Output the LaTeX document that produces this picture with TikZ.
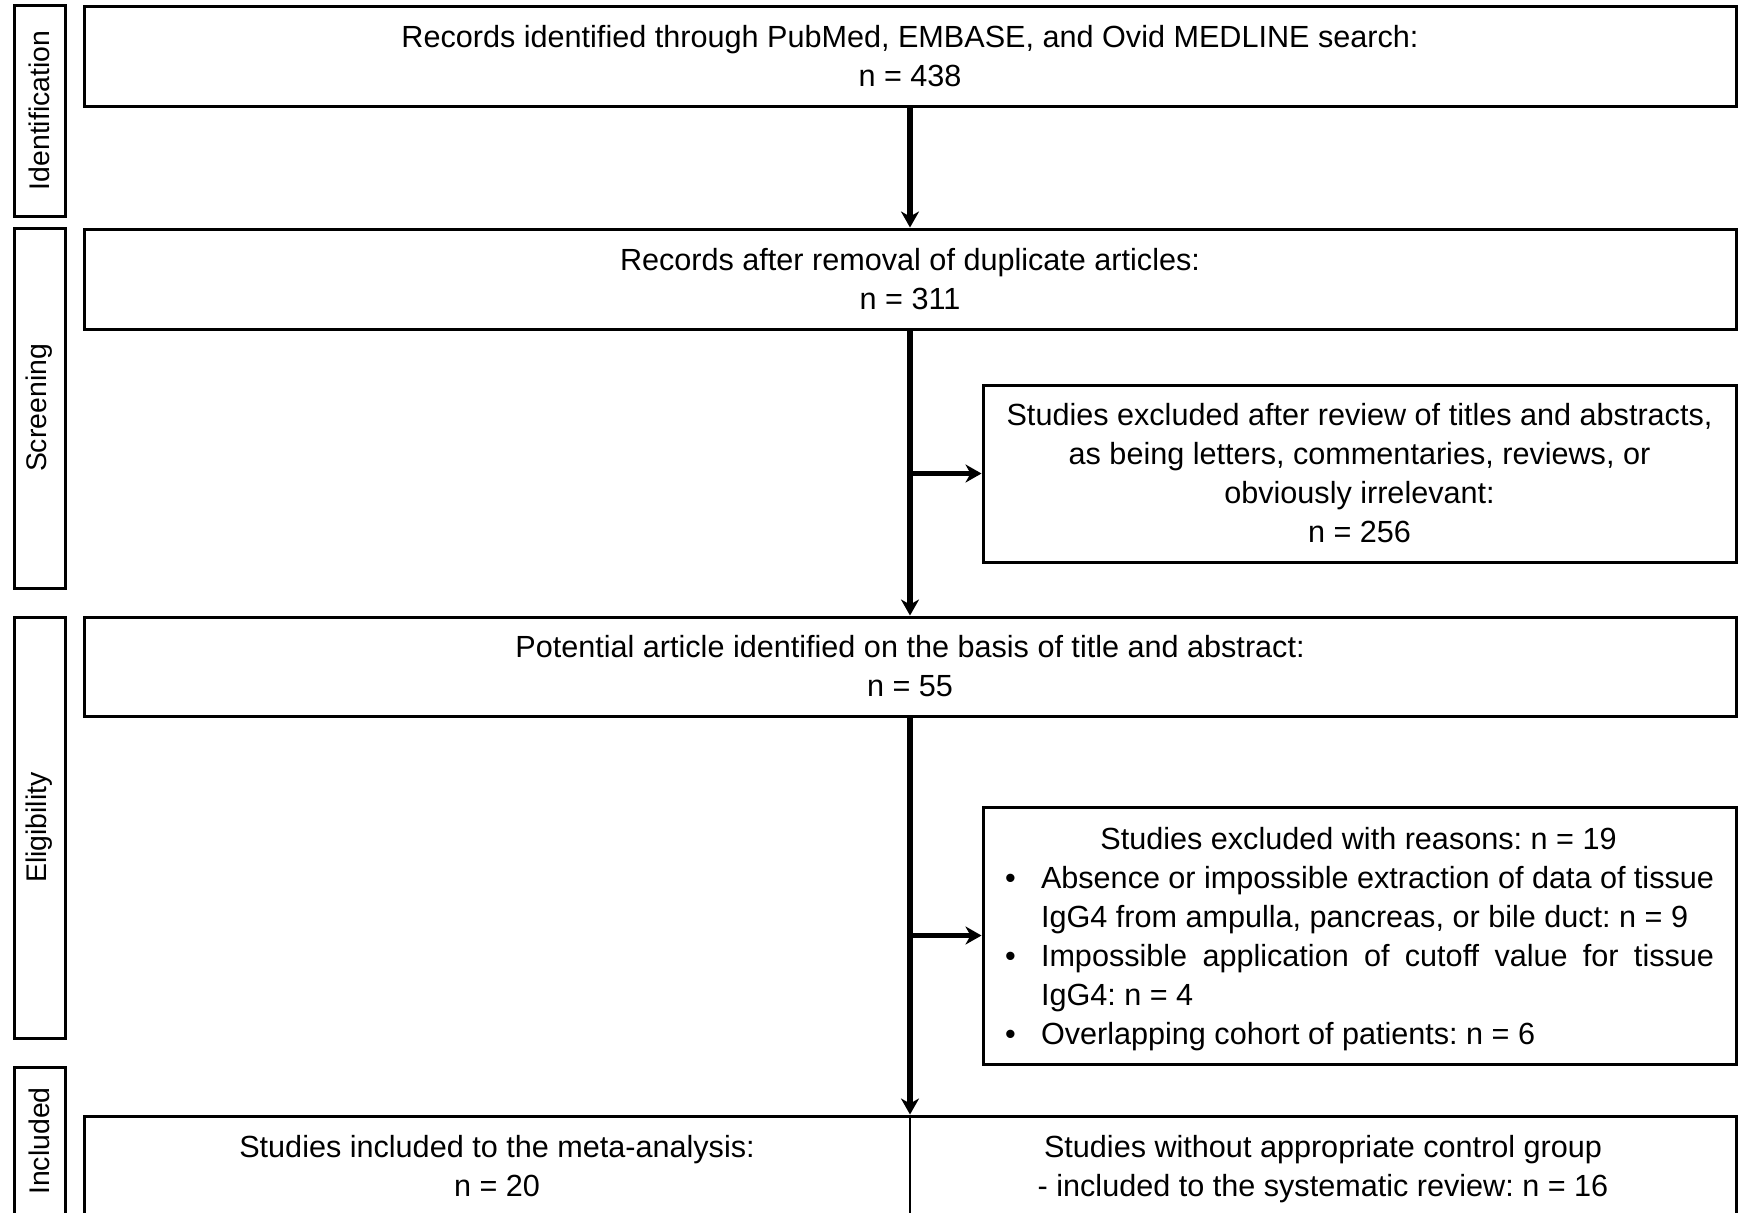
\documentclass[tikz,border=0pt]{standalone}
\usepackage{fontspec}
\setmainfont{Liberation Sans}
\usetikzlibrary{arrows.meta}
\frenchspacing
\begin{document}
\begin{tikzpicture}[x=0.5pt,y=-0.5pt,
  mainbox/.style={draw, line width=1.5pt, inner sep=0pt, align=center, font=\fontsize{15.3pt}{19.5pt}\selectfont},
  plaintext/.style={inner sep=0pt, align=center, font=\fontsize{15.3pt}{19.5pt}\selectfont},
  sidebox/.style={draw, line width=1.5pt, inner sep=0pt, rotate=90, minimum height=25.5pt, font=\fontsize{14.2pt}{17pt}\selectfont},
  flow/.style={line width=2.75pt, -{Stealth[length=8pt,width=9pt,inset=2.5pt]}},
  divider/.style={line width=1pt}]
\path[use as bounding box, clip] (0,0) rectangle (1739,1212);

% phase labels
\node[sidebox, minimum width=105.5pt] (sid) at (39.5,110.5) {Identification};
\node[sidebox, minimum width=180pt] (sscr) at (39.5,408) {Screening};
\node[sidebox, minimum width=210.5pt] (selig) at (39.5,827.5) {Eligibility};
\node[sidebox, minimum width=74pt] (sinc) at (39.5,1141) {Included};

% main boxes
\node[mainbox, minimum width=826pt, minimum height=50pt] (b1) at (910,56)
  {Records identified through PubMed, EMBASE, and Ovid MEDLINE search:\\ n = 438};
\node[mainbox, minimum width=826pt, minimum height=50pt] (b2) at (910,279)
  {Records after removal of duplicate articles:\\ n = 311};
\node[mainbox, minimum width=826pt, minimum height=49.5pt] (b3) at (910,666.5)
  {Potential article identified on the basis of title and abstract:\\ n = 55};
\node[mainbox, minimum width=826pt, minimum height=50.5pt] (b4) at (910,1166.5) {};
\draw[divider] (b4.north) -- (b4.south);
\node[plaintext] (meta) at (497,1166.5) {Studies included to the meta-analysis:\\ n = 20};
\node[plaintext] (sysrev) at (1323,1169.5) {Studies without appropriate control group\\ - included to the systematic review: n = 16};

% exclusion boxes
\node[mainbox, minimum width=376.5pt, minimum height=88.5pt] (ex1) at (1359.5,473.5)
  {Studies excluded after review of titles and abstracts,\\ as being letters, commentaries, reviews, or\\ obviously irrelevant:\\ n = 256};
\node[draw, line width=1.5pt, minimum width=376.5pt, minimum height=128.5pt] (ex2) at (1359.5,935.5) {};
\node[inner sep=0pt, text width=355.5pt, align=justify, font=\fontsize{15.3pt}{19.5pt}\selectfont] (ex2t) at (1358.5,939.5)
  {\makebox[\hsize][c]{Studies excluded with reasons: n = 19}\par
   \noindent\hangindent=19pt\hangafter=1\makebox[19pt][l]{\hspace{1pt}\textbullet}Absence or impossible extraction of data of tissue\linebreak IgG4 from ampulla, pancreas, or bile duct: n = 9\par
   \noindent\hangindent=19pt\hangafter=1\makebox[19pt][l]{\hspace{1pt}\textbullet}Impossible application of cutoff value for tissue\linebreak IgG4: n = 4\par
   \noindent\hangindent=19pt\hangafter=1\makebox[19pt][l]{\hspace{1pt}\textbullet}Overlapping cohort of patients: n = 6\par};

% connectors
\draw[flow] (b1.south) -- (b2.north);
\draw[flow] (b2.south) -- (b3.north);
\draw[flow] (b3.south) -- (b4.north);
\coordinate (j1) at (b2.south |- ex1.west);
\coordinate (j2) at (b3.south |- ex2.west);
\draw[flow] (j1) -- (ex1.west);
\draw[flow] (j2) -- (ex2.west);
\end{tikzpicture}
\end{document}
